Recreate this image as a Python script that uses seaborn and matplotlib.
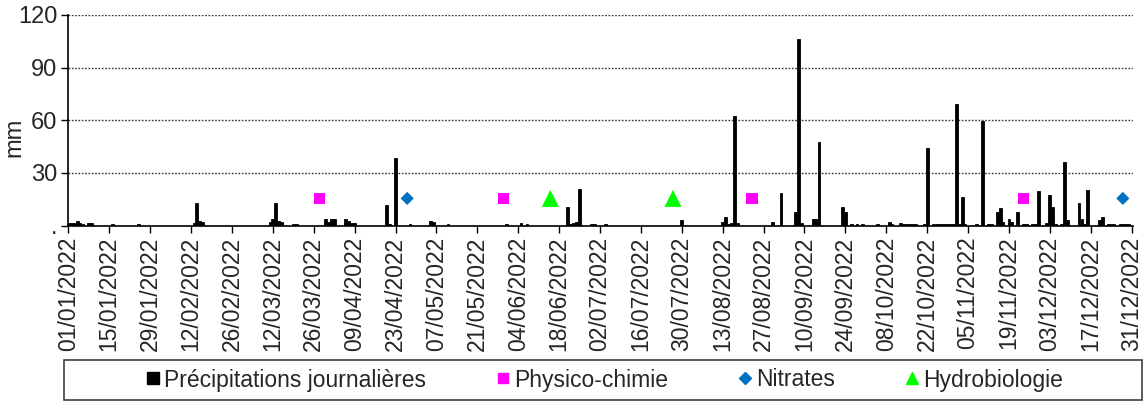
import matplotlib
matplotlib.use("Agg")
import matplotlib.pyplot as plt
from matplotlib.lines import Line2D
from matplotlib.patches import Rectangle
import seaborn as sns
import pandas as pd

# pluie journalière : jour de l'année (0 = 01/01/2022) et hauteur en mm
rain_day = [0, 1, 2, 3, 4, 5, 7, 8, 15, 24,
            43, 44, 45, 46,
            69, 70, 71, 72, 73, 77, 78,
            88, 89, 90, 91, 95, 96, 97, 98,
            109, 110, 112, 117, 124, 125, 130,
            150, 155, 157,
            171, 172, 173, 174, 175, 179, 180, 184,
            210,
            224, 225, 226, 227, 228, 229,
            241, 244, 249, 250, 251,
            255, 256, 257,
            265, 266, 268, 270, 272,
            277, 281, 282, 285, 286, 287, 288, 289, 290,
            293, 294, 296, 297, 298, 299, 300, 301, 302, 303, 304, 305, 306, 307,
            311, 313, 315, 316,
            318, 319, 320, 322, 323, 325, 327, 328, 330, 331, 332, 335, 336, 337,
            338, 340, 341, 342, 346, 347, 348, 349, 353, 354, 356, 357, 358,
            360, 361, 362, 363]
rain_mm = [1.5, 1.5, 1.5, 2.5, 1.5, 1, 1.5, 1.5, 1, 1,
           1.5, 13, 2.5, 2,
           2, 4, 13, 2.5, 2, 1, 1,
           4, 2, 3.5, 4, 3.5, 2.5, 1.5, 1.5,
           11.8, 1, 38.7, 1, 2.8, 2, 1,
           1, 1.5, 1,
           10.5, 1, 1.5, 2, 20.7, 1, 1, 1,
           3.3,
           2, 5.1, 1, 1.5, 62.7, 1.5,
           2, 18.8, 8, 106.3, 1.5,
           3.5, 3.5, 47.8,
           10.8, 8, 1, 1, 1,
           1, 2.2, 1, 1.5, 1, 1, 1, 1, 1,
           1, 44, 1, 1, 1, 1, 1, 1, 1, 1, 69.3, 1, 16.5, 1,
           1, 59.6, 1, 1,
           7.5, 9.8, 2, 3.8, 2, 8, 1, 1, 1, 1, 19.9, 1.5, 17.5, 10.8,
           1, 1, 36.4, 3, 12.7, 4, 1, 20.3, 3, 5, 1, 1, 1,
           1, 1, 1, 1]

# dates des prélèvements
physico_dates = ["2022-03-28", "2022-05-30", "2022-08-23", "2022-11-24"]
nitrates_dates = ["2022-04-27", "2022-12-28"]
hydrobio_dates = ["2022-06-15", "2022-07-27"]
marker_level = 15.5

start = pd.Timestamp("2022-01-01")
tick_dates = pd.date_range("2022-01-01", "2022-12-31", freq="14D")
tick_labels = [d.strftime("%d/%m/%Y") for d in tick_dates]

def to_day(dates):
    return [(pd.Timestamp(d) - start).days for d in dates]

sns.set_theme(style="white")
plt.rcParams["font.family"] = ["Liberation Sans", "DejaVu Sans"]
plt.rcParams["font.size"] = 17

fig = plt.figure(figsize=(11.43, 4.01), dpi=100)
ax = fig.add_axes([0.0598, 0.4374, 0.9315, 0.5252])

sns.barplot(x=rain_day, y=rain_mm, native_scale=True, color="black",
            width=0.95, errorbar=None, saturation=1, linewidth=0.6,
            edgecolor="black", ax=ax)
sns.scatterplot(x=to_day(physico_dates), y=[marker_level] * len(physico_dates),
                marker="s", color="#FF00FF", s=70, edgecolor="none", ax=ax, zorder=5)
sns.scatterplot(x=to_day(nitrates_dates), y=[marker_level] * len(nitrates_dates),
                marker="D", color="#0070C0", s=45, edgecolor="none", ax=ax, zorder=5)
sns.scatterplot(x=to_day(hydrobio_dates), y=[marker_level] * len(hydrobio_dates),
                marker="^", color="#00FF00", s=150, edgecolor="none", ax=ax, zorder=5)

ax.set_xlim(0, 364.5)
ax.set_ylim(0, 120)
ax.set_xticks(to_day(tick_dates))
ax.set_xticklabels(tick_labels, rotation=90, fontsize=16.5)
ax.set_yticks([0, 30, 60, 90, 120])
ax.set_yticklabels([".", "30", "60", "90", "120"], fontsize=17)
ax.tick_params(axis="both", direction="out", length=5, width=1, color="black",
               bottom=True, left=True, pad=3)
ax.set_ylabel("mm", fontsize=17)
ax.yaxis.set_label_coords(-0.040, 0.42)
ax.set_xlabel("")
ax.yaxis.grid(True, linestyle=(0, (1.2, 1.2)), color="0.2", linewidth=1)
ax.set_axisbelow(True)
for side in ["top", "right"]:
    ax.spines[side].set_visible(False)
for side in ["left", "bottom"]:
    ax.spines[side].set_color("black")
    ax.spines[side].set_linewidth(1.2)

# légende en bas dans un cadre
fig.patches.append(Rectangle((64 / 1143, 1 / 401), 1078 / 1143, 40 / 401,
                             transform=fig.transFigure, fill=False,
                             edgecolor="0.25", linewidth=1.2))
handles = [
    Line2D([], [], linestyle="none", marker="s", color="black", markersize=9),
    Line2D([], [], linestyle="none", marker="s", color="#FF00FF", markersize=7),
    Line2D([], [], linestyle="none", marker="D", color="#0070C0", markersize=6),
    Line2D([], [], linestyle="none", marker="^", color="#00FF00", markersize=9),
]
labels = ["Précipitations journalières", "Physico-chimie", "Nitrates", "Hydrobiologie"]
fig.legend(handles, labels, loc="center", bbox_to_anchor=(604 / 1143, 21 / 401),
           ncol=4, frameon=False, fontsize=16.5, handlelength=0.7,
           handletextpad=0.15, columnspacing=3.0)

fig.savefig("out.png", dpi=100)
